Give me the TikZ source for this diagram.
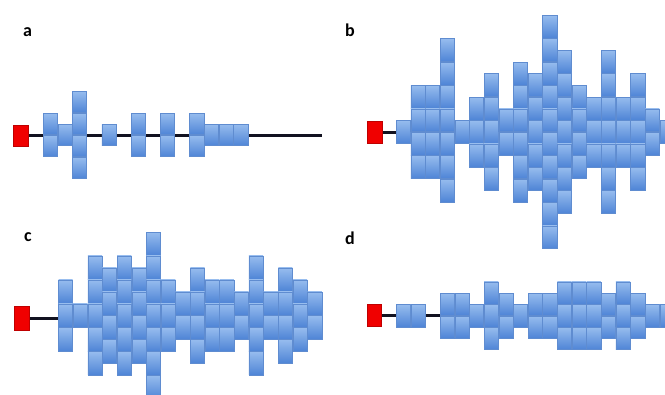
\documentclass[tikz,border=0pt]{standalone}
\usepackage{fontspec}
\setmainfont{Carlito}
\definecolor{boxtop}{RGB}{150,188,238}
\definecolor{boxbot}{RGB}{78,132,214}
\definecolor{boxedge}{RGB}{95,140,208}
\definecolor{seqline}{RGB}{18,18,32}
\definecolor{startred}{RGB}{240,0,0}
\pgfdeclarelayer{bg}
\pgfsetlayers{bg,main}
\newcommand\mkcolumns[6]{%
  \foreach \i/\n/\t in {#6} {
    \foreach \k in {1,...,\n} {
      \node[blk=#5] (#1-\i-\k) at ({#2+14.65*\i+7.3},{#4-\t*#5+(\k-0.5)*#5}) {};
    }
  }%
}
\begin{document}
\begin{tikzpicture}[x=1pt,y=-1pt,
  blk/.style={draw=boxedge, line width=0.5pt, top color=boxtop, bottom color=boxbot,
    minimum width=14.2pt, minimum height=#1-0.5pt, inner sep=0pt, outer sep=0pt},
  startbox/.style={draw=red!75!black, fill=startred, line width=0.5pt,
    minimum width=14.5pt, minimum height=#1, inner sep=0pt, outer sep=0pt},
  seq/.style={draw=seqline, line width=2.8pt},
  lbl/.style={font=\bfseries\fontsize{18}{18}\selectfont, inner sep=0pt, anchor=base west}]
\useasboundingbox (0,0) rectangle (665,395);
\clip (0,0) rectangle (665,395);

% labels
\node[lbl] (la) at (23,37) {a};
\node[lbl] (lb) at (345,37) {b};
\node[lbl] (lc) at (24,242) {c};
\node[lbl] (ld) at (345,245) {d};

% panel a
\node[startbox=21pt] (a-red) at (20.5,135.5) {};
\coordinate (a-end) at (322,135.5);
\mkcolumns{a}{43}{14.65}{135}{22}{0/2/1, 1/1/0.5, 2/4/2, 4/1/0.5, 6/2/1, 8/2/1, 10/2/1, 11/1/0.5, 12/1/0.5, 13/1/0.5}
\begin{pgfonlayer}{bg}
\draw[seq] (a-red.east) -- (a-end);
\end{pgfonlayer}

% panel b
\node[startbox=22pt] (b-red) at (374.5,132.5) {};
\mkcolumns{b}{396}{14.65}{132}{23.4}{0/1/0.5, 1/4/2, 2/4/2, 3/7/4, 4/1/0.5, 5/3/1.5, 6/5/2.5, 7/2/1, 8/6/3, 9/5/2.5, 10/10/5, 11/7/3.5, 12/4/2, 13/3/1.5, 14/7/3.5, 15/3/1.5, 16/5/2.5, 17/2/1, 18/1/0.5}
\begin{pgfonlayer}{bg}
\draw[seq] (b-red.east) -- (b-red.east -| b-0-1.west);
\end{pgfonlayer}

% panel c
\node[startbox=24pt] (c-red) at (21.5,318.5) {};
\mkcolumns{c}{58.3}{14.65}{315.5}{23.9}{0/3/1.5, 1/1/0.5, 2/5/2.5, 3/4/2, 4/5/2.5, 5/4/2, 6/7/3.5, 7/3/1.5, 8/2/1, 9/4/2, 10/3/1.5, 11/3/1.5, 12/2/1, 13/5/2.5, 14/2/1, 15/4/2, 16/3/1.5, 17/2/1}
\begin{pgfonlayer}{bg}
\draw[seq] (c-red.east) -- (c-red.east -| c-0-2.west);
\end{pgfonlayer}

% panel d
\node[startbox=22.4pt] (d-red) at (374,315.5) {};
\mkcolumns{d}{396}{14.65}{315.8}{22.8}{0/1/0.5, 1/1/0.5, 3/2/1, 4/2/1, 5/1/0.5, 6/3/1.5, 7/2/1, 8/1/0.5, 9/2/1, 10/2/1, 11/3/1.5, 12/3/1.5, 13/3/1.5, 14/2/1, 15/3/1.5, 16/2/1, 17/1/0.5, 18/1/0.5}
\begin{pgfonlayer}{bg}
\draw[seq] (d-red.east) -- (d-red.east -| d-3-1.west);
\end{pgfonlayer}
\end{tikzpicture}
\end{document}
